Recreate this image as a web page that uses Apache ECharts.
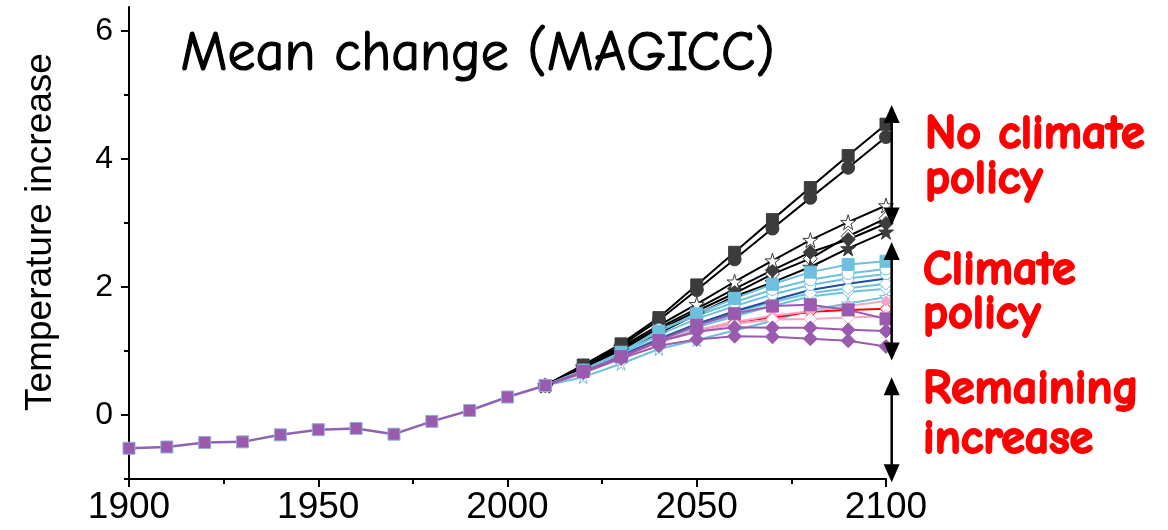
<!DOCTYPE html>
<html><head><meta charset="utf-8">
<script src="https://cdn.jsdelivr.net/npm/echarts@6/dist/echarts.min.js"></script>
<style>html,body{margin:0;padding:0;background:#fff}#c{width:1168px;height:530px}</style>
</head><body><div id="c"></div>
<script>
// ---------- data ----------
const histYears  = [1900,1910,1920,1930,1940,1950,1960,1970,1980,1990,2000,2010];
const histValues = [-0.52,-0.50,-0.43,-0.42,-0.31,-0.23,-0.21,-0.30,-0.10,0.07,0.28,0.46];

const futYears = [2010,2020,2030,2040,2050,2060,2070,2080,2090,2100];
// no climate policy (black)
const bkSquare      = [0.46,0.78,1.11,1.52,2.03,2.54,3.05,3.55,4.05,4.54];
const bkCircle      = [0.46,0.76,1.08,1.48,1.95,2.43,2.91,3.39,3.86,4.34];
const bkOpenStar    = [0.46,0.76,1.06,1.40,1.73,2.08,2.41,2.73,3.01,3.27];
const bkOpenDiamond = [0.46,0.74,1.02,1.33,1.62,1.90,2.20,2.44,2.79,3.07];
const bkDiamond     = [0.46,0.75,1.04,1.36,1.66,1.97,2.26,2.54,2.74,2.99];
const bkStar        = [0.46,0.74,1.00,1.28,1.57,1.85,2.07,2.31,2.60,2.86];
// climate policy (light blue / dark blue)
const lbSquare      = [0.46,0.70,0.98,1.30,1.58,1.82,2.04,2.23,2.35,2.40];
const lbCircle      = [0.46,0.70,0.97,1.33,1.55,1.76,1.96,2.11,2.21,2.28];
const lbTriangle    = [0.46,0.69,0.95,1.25,1.50,1.70,1.88,2.03,2.13,2.20];
const lbOpenDiamond = [0.46,0.68,0.93,1.20,1.42,1.60,1.76,1.90,1.98,2.05];
const lbCross       = [0.46,0.67,0.91,1.16,1.37,1.54,1.70,1.85,1.92,1.97];
const lbStar        = [0.46,0.59,0.80,1.03,1.17,1.32,1.47,1.64,1.74,1.84];
const dkBlue        = [0.46,0.68,0.93,1.18,1.42,1.62,1.79,1.95,2.05,2.13];
// climate policy (pink / red / purple)
const pkOpenDiamond = [0.46,0.66,0.90,1.14,1.30,1.42,1.49,1.50,1.52,1.54];
const pkLine        = [0.46,0.66,0.90,1.15,1.33,1.45,1.55,1.62,1.70,1.78];
const redLine       = [0.46,0.66,0.90,1.14,1.32,1.45,1.52,1.61,1.64,1.66];
const ppSquare      = [0.46,0.68,0.91,1.16,1.40,1.58,1.70,1.72,1.64,1.50];
const ppDiamondHi   = [0.46,0.67,0.90,1.15,1.30,1.37,1.36,1.36,1.33,1.31];
const ppDiamondLo   = [0.46,0.66,0.88,1.08,1.18,1.23,1.22,1.19,1.16,1.07];

// annotation arrows: [x (year), top value, bottom value]
const arrowX      = 2101.5;
const arrowTops   = [4.84, 2.70, 0.59];
const arrowBottoms= [2.96, 0.85, -1.05];

// tick labels
const xTicks = [1900,1950,2000,2050,2100];
const yMajor = [0,2,4,6];
const yMinor = [-1,1,3,5];

// ---------- styling ----------
const BLACK='#000000', GREY='#3c3c3c', LB='#6EC0DE', DB='#1F4E9E', PK='#F6A6CA', RED='#FF0000', PP='#9A5AAE';
const STAR='path://M50,0 L61,35 L98,35 L68,57 L79,91 L50,70 L21,91 L32,57 L2,35 L39,35 Z';

function pairs(xs, ys){ return xs.map((x,i)=>[x, ys[i]]); }
function mk(values, line, sym, size, fill, edge, lw){
  return {
    type:'line', data: pairs(futYears, values), yAxisIndex:0,
    symbol: sym, symbolSize: size, showSymbol: sym !== 'none',
    lineStyle:{color:line, width:lw||2}, itemStyle:{color:fill, borderColor:edge||fill, borderWidth:1},
    emphasis:{disabled:true}, animation:false, z:2
  };
}

const series = [
  mk(bkOpenDiamond, BLACK, 'diamond', 14, '#fff', GREY),
  mk(bkStar,        BLACK, STAR, 15, GREY),
  mk(bkDiamond,     BLACK, 'diamond', 14, GREY),
  mk(bkOpenStar,    BLACK, STAR, 15, '#fff', GREY),
  mk(bkCircle,      BLACK, 'circle', 13, GREY),
  mk(bkSquare,      BLACK, 'rect', 12, GREY),
  mk(lbStar,        LB, STAR, 13, '#fff', LB),
  mk(lbCross,       LB, 'diamond', 12, '#fff', LB),
  mk(lbOpenDiamond, LB, 'diamond', 13, '#fff', LB),
  mk(dkBlue,        DB, 'none', 4, DB),
  mk(lbTriangle,    LB, 'circle', 11, '#fff', LB),
  mk(lbCircle,      LB, 'circle', 12, '#fff', LB),
  mk(lbSquare,      LB, 'rect', 12, LB),
  mk(redLine,       RED, 'diamond', 12, '#fff', RED),
  mk(pkLine,        PK, 'diamond', 10, PK),
  mk(pkOpenDiamond, PK, 'diamond', 13, '#fff', PK),
  mk(ppDiamondLo,   PP, 'diamond', 14, PP),
  mk(ppDiamondHi,   PP, 'diamond', 14, PP),
  mk(ppSquare,      PP, 'rect', 12, PP),
  {
    type:'line', data: pairs(histYears, histValues), symbol:'rect', symbolSize:12,
    lineStyle:{color:'#8E62B4', width:2.5}, itemStyle:{color:PP, borderColor:'#8fb2d6', borderWidth:1},
    emphasis:{disabled:true}, animation:false, z:3
  },
  {
    type:'custom', clip:false, z:5, animation:false, silent:true,
    data: arrowTops.map((t,i)=>[arrowX, t, arrowBottoms[i]]),
    renderItem: function(params, api){
      const top = api.coord([api.value(0), api.value(1)]);
      const bot = api.coord([api.value(0), api.value(2)]);
      const x = top[0], hw = 8, hh = 18;
      return {type:'group', children:[
        {type:'line', shape:{x1:x, y1:top[1]+hh-2, x2:x, y2:bot[1]-hh+2}, style:{stroke:'#000', lineWidth:2.5}},
        {type:'polygon', shape:{points:[[x,top[1]],[x-hw,top[1]+hh],[x+hw,top[1]+hh]]}, style:{fill:'#000'}},
        {type:'polygon', shape:{points:[[x,bot[1]],[x-hw,bot[1]-hh],[x+hw,bot[1]-hh]]}, style:{fill:'#000'}}
      ]};
    }
  }
];

const AX = '"Liberation Sans", Arial, sans-serif';
const COMIC = '"Comic Sans MS", "Comic Neue", "Noto Sans", sans-serif';

function redText(txt, x, y){
  return {type:'text', left:x, top:y, silent:true,
    style:{text:txt, fill:RED, font:'bold 48px ' + COMIC, stroke:RED, lineWidth:2}};
}

const option = {
  animation:false,
  backgroundColor:'#fff',
  grid:{left:129, right:282, top:7, bottom:51, containLabel:false},
  xAxis:{
    type:'value', min:1900, max:2100, interval:50,
    axisLine:{show:true, onZero:false, lineStyle:{color:'#000', width:2}},
    axisTick:{show:true, length:8, lineStyle:{color:'#000', width:2}},
    minorTick:{show:true, splitNumber:2, length:5, lineStyle:{color:'#000', width:2}},
    splitLine:{show:false},
    axisLabel:{customValues:xTicks, formatter:(v)=>String(v), color:'#000', fontSize:37, fontFamily:AX, margin:10}
  },
  yAxis:[
    {
      type:'value', min:-1, max:6.37, position:'left',
      name:'Temperature increase', nameLocation:'middle', nameGap:70, nameRotate:90,
      nameTextStyle:{color:'#000', fontSize:37, fontFamily:AX, padding:[0,0,0,22]},
      axisLine:{show:true, onZero:false, lineStyle:{color:'#000', width:2}},
      axisTick:{show:true, customValues:yMinor, length:5, lineStyle:{color:'#000', width:2}},
      splitLine:{show:false},
      axisLabel:{customValues:yMajor, formatter:(v)=>String(v), color:'#000', fontSize:32, fontFamily:AX, margin:16}
    },
    {
      type:'value', min:-1, max:6.37, position:'left', offset:0,
      axisLine:{show:false},
      axisTick:{show:true, customValues:yMajor, length:8, lineStyle:{color:'#000', width:2}},
      splitLine:{show:false},
      axisLabel:{show:false}
    }
  ],
  graphic:[
    {type:'text', left:180, top:26, silent:true,
      style:{text:'Mean change (MAGICC)', fill:'#000', font:'56px ' + COMIC, stroke:'#000', lineWidth:1.2}},
    redText('No climate', 924, 109),
    redText('policy', 924, 154),
    redText('Climate', 922, 245),
    redText('policy', 922, 289),
    redText('Remaining', 922, 364),
    redText('increase', 922, 414)
  ],
  series: series
};

const chart = echarts.init(document.getElementById('c'), null, {renderer:'canvas'});
chart.setOption(option);
</script>
</body></html>
